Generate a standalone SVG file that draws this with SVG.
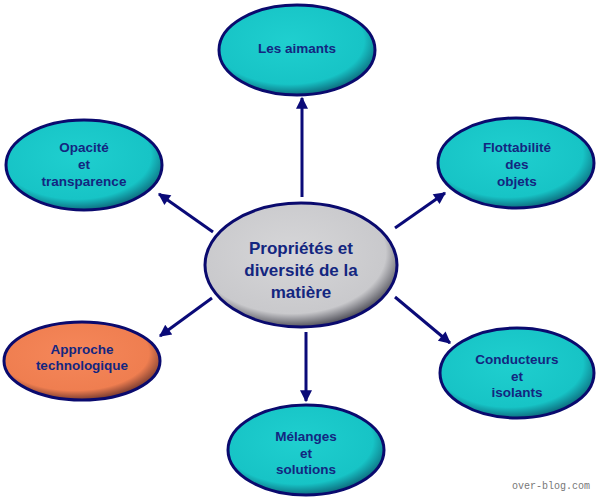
<svg xmlns="http://www.w3.org/2000/svg" width="600" height="500" viewBox="0 0 600 500">
<defs>
<radialGradient id="gC" cx="0.45" cy="0.4" r="0.6">
<stop offset="0" stop-color="#1fcfcf"/>
<stop offset="0.8" stop-color="#17c4c6"/>
<stop offset="1" stop-color="#0d6f80"/>
</radialGradient>
<radialGradient id="gO" cx="0.45" cy="0.4" r="0.6">
<stop offset="0" stop-color="#f5875a"/>
<stop offset="0.8" stop-color="#ef7e50"/>
<stop offset="1" stop-color="#7a3c30"/>
</radialGradient>
<radialGradient id="gG" cx="0.45" cy="0.4" r="0.6">
<stop offset="0" stop-color="#d6d6d8"/>
<stop offset="0.82" stop-color="#c9c9cc"/>
<stop offset="1" stop-color="#55555e"/>
</radialGradient>
<marker id="ah" viewBox="0 0 10 10" refX="9" refY="5" markerWidth="5" markerHeight="4" orient="auto" markerUnits="strokeWidth">
<path d="M0,0 L10,5 L0,10 z" fill="#0a0a78"/>
</marker>
</defs>
<style>
.n{stroke:#0a0a6e;stroke-width:3}
.t{font-family:"Liberation Sans",Arial,sans-serif;font-weight:bold;font-size:13.5px;fill:#132680;text-anchor:middle}
.tc{font-size:17px}
.c line{stroke:#0a0a78;stroke-width:3;marker-end:url(#ah)}
</style>
<rect width="600" height="500" fill="#ffffff"/>
<g class="c" id="connectors">
<line x1="302" y1="197" x2="302" y2="98"/>
<line x1="213" y1="232" x2="159" y2="194"/>
<line x1="395" y1="228" x2="445" y2="193"/>
<line x1="212" y1="298" x2="160" y2="336"/>
<line x1="395" y1="297" x2="450" y2="343"/>
<line x1="306" y1="332" x2="306" y2="401"/>
</g>
<g id="center">
<ellipse class="n" cx="301" cy="265" rx="96" ry="62" fill="url(#gG)"/>
<text class="t tc" x="301" y="254">Propriétés et</text>
<text class="t tc" x="301" y="276">diversité de la</text>
<text class="t tc" x="301" y="298">matière</text>
</g>
<g id="aimants">
<ellipse class="n" cx="297" cy="50" rx="78" ry="45" fill="url(#gC)"/>
<text class="t" x="297" y="53">Les aimants</text>
</g>
<g id="opacite">
<ellipse class="n" cx="84" cy="165" rx="78" ry="45" fill="url(#gC)"/>
<text class="t" x="84" y="152">Opacité</text>
<text class="t" x="84" y="169">et</text>
<text class="t" x="84" y="186">transparence</text>
</g>
<g id="flottabilite">
<ellipse class="n" cx="516" cy="163" rx="78" ry="45" fill="url(#gC)"/>
<text class="t" x="517" y="152">Flottabilité</text>
<text class="t" x="517" y="169">des</text>
<text class="t" x="517" y="186">objets</text>
</g>
<g id="approche">
<ellipse class="n" cx="82" cy="361" rx="78" ry="39" fill="url(#gO)"/>
<text class="t" x="82" y="354">Approche</text>
<text class="t" x="82" y="370">technologique</text>
</g>
<g id="conducteurs">
<ellipse class="n" cx="517" cy="373" rx="77" ry="45" fill="url(#gC)"/>
<text class="t" x="517" y="364">Conducteurs</text>
<text class="t" x="517" y="381">et</text>
<text class="t" x="517" y="397">isolants</text>
</g>
<g id="melanges">
<ellipse class="n" cx="306" cy="450" rx="78" ry="45" fill="url(#gC)"/>
<text class="t" x="306" y="441">Mélanges</text>
<text class="t" x="306" y="458">et</text>
<text class="t" x="306" y="474">solutions</text>
</g>
<text x="551" y="489" font-family="'Liberation Mono',monospace" font-size="10" fill="#777777" text-anchor="middle">over-blog.com</text>
</svg>
